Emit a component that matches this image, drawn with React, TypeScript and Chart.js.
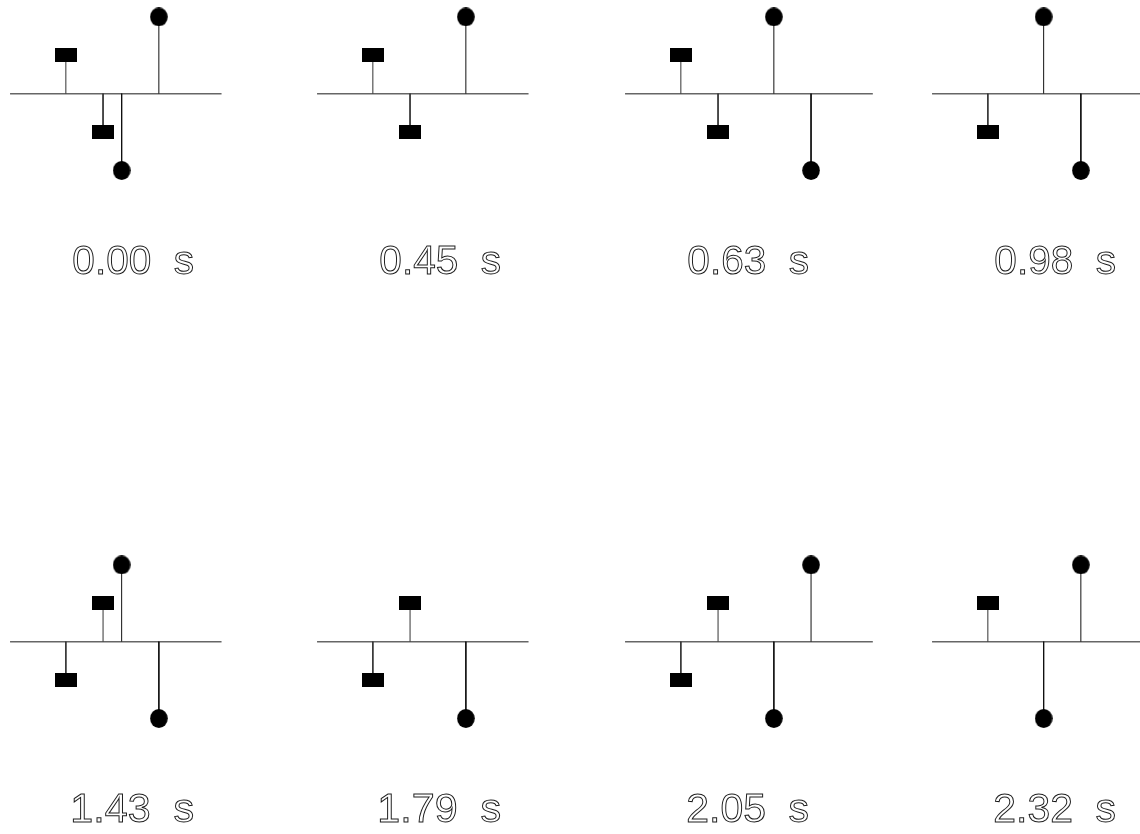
import React, { useEffect, useRef } from 'react';
import { Chart, registerables } from 'chart.js';

Chart.register(...registerables);

// Snapshot times (one panel each)
const TIMES = ['0.00', '0.45', '0.63', '0.98', '1.43', '1.79', '2.05', '2.32'];

// Rectangle-marker stems: positions and values per panel
const RECT_X = [[3, 5], [3, 5], [3, 5], [3], [3, 5], [3, 5], [3, 5], [3]];
const RECT_Y = [[1, -1], [1, -1], [1, -1], [-1], [-1, 1], [-1, 1], [-1, 1], [1]];

// Circle-marker stems: positions and values per panel
const CIRC_X = [[6, 8], [8], [8, 10], [6, 8], [6, 8], [8], [8, 10], [6, 8]];
const CIRC_Y = [[-2, 2], [2], [2, -2], [2, -2], [2, -2], [-2], [-2, 2], [-2, 2]];

// Baseline extent per panel
const BASE_START = [0, 0, 0, 0, 0, 0, 0, 0];
const BASE_END = [11.37, 11.37, 13.32, 11.37, 11.37, 11.37, 13.32, 11.37];

const X_MIN = -0.54;
const X_MAX = 15.05;
const Y_MIN = -2.77;
const Y_MAX = 2.44;

const CANVAS_W = 290;
const CANVAS_H = 290;
const COL_LEFT = [0, 307, 615, 922];
const ROW_TOP = [0, 548];

function makeRect(): HTMLCanvasElement {
  const c = document.createElement('canvas');
  c.width = 22;
  c.height = 14;
  const g = c.getContext('2d')!;
  g.fillStyle = '#000';
  g.fillRect(0, 0, 22, 14);
  return c;
}

function makeDot(): HTMLCanvasElement {
  const c = document.createElement('canvas');
  c.width = 18;
  c.height = 19;
  const g = c.getContext('2d')!;
  g.fillStyle = '#000';
  g.beginPath();
  g.ellipse(9, 9.5, 8.8, 9.5, 0, 0, Math.PI * 2);
  g.fill();
  return c;
}

const labelPlugin = {
  id: 'stemLabel',
  afterDraw(chart: any, _args: any, opts: any) {
    const ctx = chart.ctx;
    const xs = chart.scales.x;
    const text = opts.text as string;
    ctx.save();
    // measure at a reference size, then fit ink height (29px) and width (120px)
    ctx.font = '40px "Liberation Sans", Arial, sans-serif';
    const digits = ctx.measureText('0');
    const asc = digits.actualBoundingBoxAscent || 29;
    const size = (40 * 29) / asc;
    ctx.font = `${size}px "Liberation Sans", Arial, sans-serif`;
    const m = ctx.measureText(text);
    const inkW = (m.actualBoundingBoxLeft || 0) + (m.actualBoundingBoxRight || m.width);
    const sx = 120 / inkW;
    const inkLeft = xs.getPixelForValue(0) + 63.3;
    const baseY = chart.chartArea.top + 274;
    ctx.translate(inkLeft, baseY);
    ctx.scale(sx, 1);
    ctx.strokeStyle = '#1a1a1a';
    ctx.lineWidth = 1;
    ctx.textAlign = 'left';
    ctx.textBaseline = 'alphabetic';
    ctx.strokeText(text, m.actualBoundingBoxLeft || 0, 0);
    ctx.restore();
  },
};

function stem(x: number, y: number, marker: HTMLCanvasElement, color: string) {
  return {
    data: [
      { x, y: 0 },
      { x, y },
    ],
    showLine: true,
    borderColor: color,
    borderWidth: 1,
    pointRadius: [0, 9],
    pointHoverRadius: [0, 9],
    pointStyle: marker,
    clip: false,
  };
}

function Panel({ index, left, top }: { index: number; left: number; top: number }) {
  const ref = useRef<HTMLCanvasElement>(null);
  useEffect(() => {
    if (!ref.current) return;
    const rect = makeRect();
    const dot = makeDot();
    const datasets: any[] = [];
    RECT_X[index].forEach((x, i) => datasets.push(stem(x, RECT_Y[index][i], rect, '#333')));
    CIRC_X[index].forEach((x, i) => datasets.push(stem(x, CIRC_Y[index][i], dot, '#111')));
    datasets.push({
      data: [
        { x: BASE_START[index], y: 0 },
        { x: BASE_END[index], y: 0 },
      ],
      showLine: true,
      borderColor: '#666',
      borderWidth: 1.5,
      pointRadius: 0,
      pointHoverRadius: 0,
      clip: false,
    });
    const chart = new Chart(ref.current, {
      type: 'scatter',
      data: { datasets },
      options: {
        animation: false,
        responsive: false,
        events: [],
        layout: {
          autoPadding: false,
          padding: { left: 0, right: 0, top: 0, bottom: CANVAS_H - 200 },
        },
        scales: {
          x: { type: 'linear', min: X_MIN, max: X_MAX, display: false },
          y: { type: 'linear', min: Y_MIN, max: Y_MAX, display: false },
        },
        plugins: {
          legend: { display: false },
          tooltip: { enabled: false },
          stemLabel: { text: `${TIMES[index]}  s` },
        } as any,
      },
      plugins: [labelPlugin],
    });
    return () => chart.destroy();
  }, [index]);
  return (
    <canvas
      ref={ref}
      width={CANVAS_W}
      height={CANVAS_H}
      style={{ position: 'absolute', left, top, width: CANVAS_W, height: CANVAS_H }}
    />
  );
}

export default function App() {
  return (
    <div
      style={{
        position: 'absolute',
        left: 0,
        top: 0,
        width: 1140,
        height: 834,
        overflow: 'hidden',
        background: '#fff',
      }}
    >
      {TIMES.map((_, i) => (
        <Panel key={i} index={i} left={COL_LEFT[i % 4]} top={ROW_TOP[Math.floor(i / 4)]} />
      ))}
    </div>
  );
}
